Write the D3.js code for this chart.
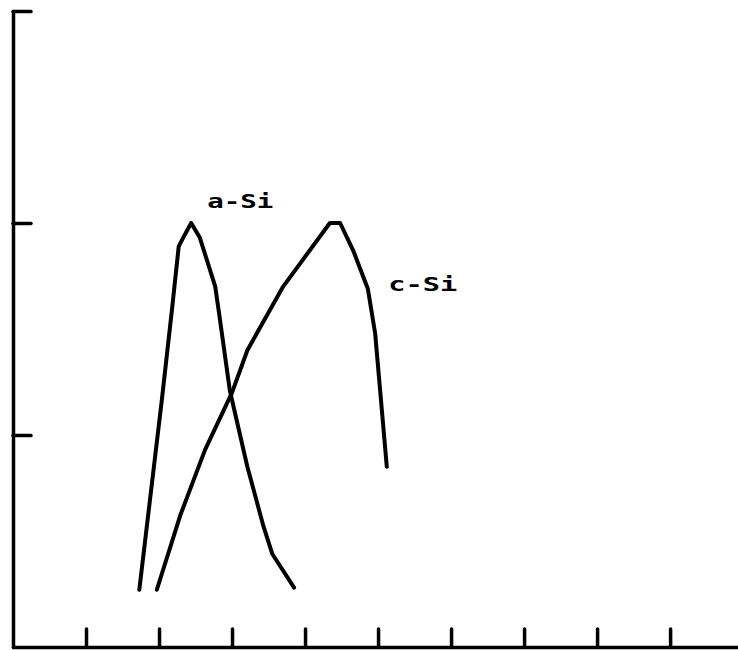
<!DOCTYPE html>
<html>
<head>
<meta charset="utf-8">
<script src="https://cdn.jsdelivr.net/npm/d3@7"></script>
<style>
  body { margin: 0; background: #fff; }
  .axis path, .axis line { stroke: #000; stroke-width: 3.5; stroke-linecap: round; }
  .axis text { display: none; }
  .label { font-family: 'DejaVu Sans Mono', monospace; font-weight: bold; font-size: 19px; }
</style>
</head>
<body>
<script>
// a-Si curve
var aSiX = [1.73, 2.04, 2.18, 2.27, 2.33, 2.44, 2.56, 2.77, 2.82, 2.97, 3.21, 3.43, 3.55, 3.85];
var aSiY = [0.27, 1.17, 1.60, 1.89, 1.93, 2.00, 1.93, 1.70, 1.58, 1.21, 0.85, 0.57, 0.44, 0.28];

// c-Si curve
var cSiX = [1.97, 2.29, 2.63, 3.00, 3.21, 3.70, 4.34, 4.48, 4.66, 4.86, 4.96, 5.12];
var cSiY = [0.27, 0.62, 0.93, 1.20, 1.40, 1.70, 2.00, 2.00, 1.87, 1.69, 1.48, 0.85];

var xTicks = [1, 2, 3, 4, 5, 6, 7, 8, 9];
var yTicks = [1, 2, 3];

var width = 738;
var height = 650;

var x = d3.scaleLinear()
        .domain([0, 9.93])
        .range([13, 738]);
var y = d3.scaleLinear()
        .domain([0, 3])
        .range([647, 11]);

var svg = d3.select('body')
            .append('svg')
            .attr('width', width)
            .attr('height', height);

// axes: ticks point inward, no labels
var xAxis = d3.axisBottom(x)
              .tickValues(xTicks)
              .tickSizeInner(-18)
              .tickSizeOuter(0)
              .tickFormat('');
var yAxis = d3.axisLeft(y)
              .tickValues(yTicks)
              .tickSizeInner(-18)
              .tickSizeOuter(0)
              .tickFormat('');

svg.append('g')
   .attr('class', 'axis')
   .attr('transform', 'translate(0,' + y(0) + ')')
   .call(xAxis);

svg.append('g')
   .attr('class', 'axis')
   .attr('transform', 'translate(' + x(0) + ',0)')
   .call(yAxis);

var line = d3.line()
             .x(function (d) { return x(d[0]); })
             .y(function (d) { return y(d[1]); });

var curves = [d3.zip(aSiX, aSiY), d3.zip(cSiX, cSiY)];

svg.selectAll('.curve')
   .data(curves)
   .enter()
   .append('path')
     .attr('class', 'curve')
     .attr('d', line)
     .attr('fill', 'none')
     .attr('stroke', '#000')
     .attr('stroke-width', 4)
     .attr('stroke-linejoin', 'round')
     .attr('stroke-linecap', 'round');

// curve labels, stretched to the plotter lettering width
svg.append('text')
   .attr('class', 'label')
   .attr('x', x(2.66))
   .attr('y', y(2.07))
   .attr('textLength', 66)
   .attr('lengthAdjust', 'spacingAndGlyphs')
   .text('a-Si');

svg.append('text')
   .attr('class', 'label')
   .attr('x', x(5.14))
   .attr('y', y(1.68))
   .attr('textLength', 69)
   .attr('lengthAdjust', 'spacingAndGlyphs')
   .text('c-Si');
</script>
</body>
</html>
